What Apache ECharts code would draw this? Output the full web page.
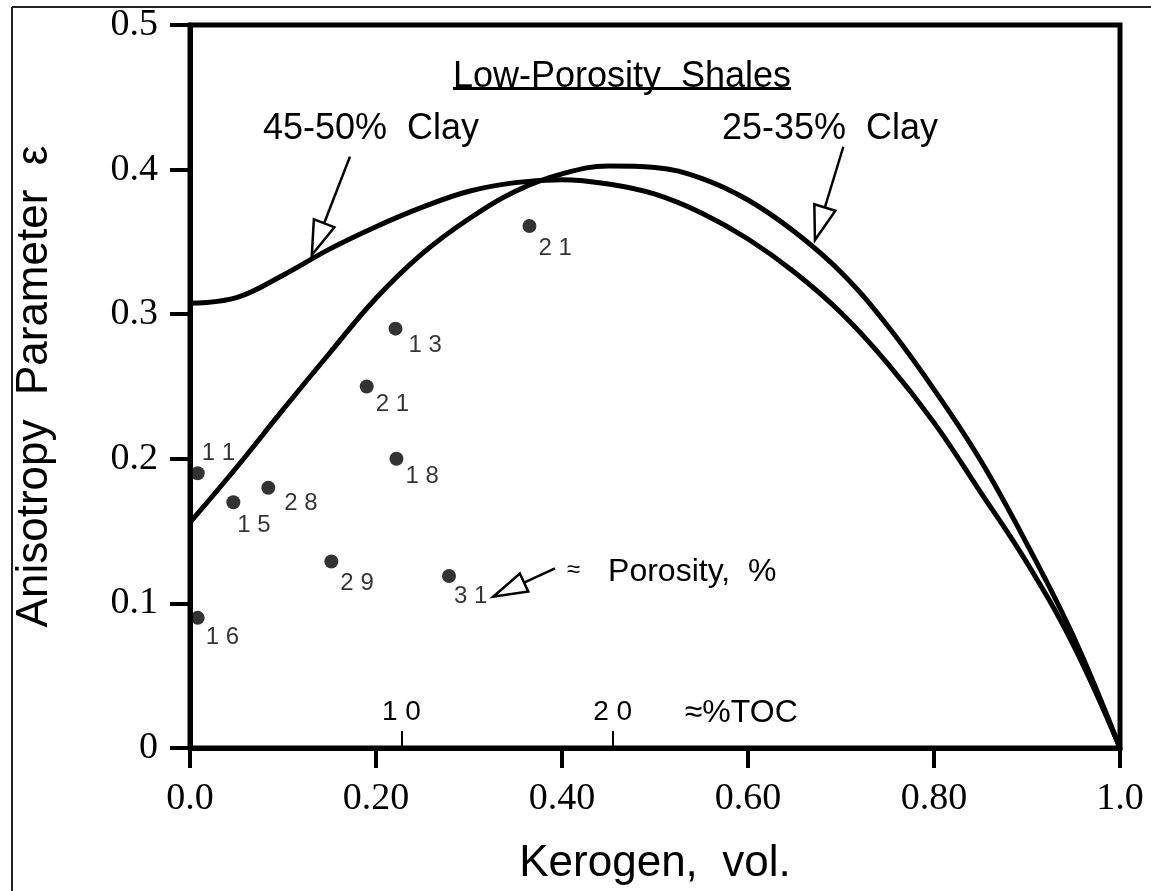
<!DOCTYPE html>
<html><head><meta charset="utf-8">
<script src="https://cdn.jsdelivr.net/npm/echarts@6/dist/echarts.min.js"></script>
<style>html,body{margin:0;padding:0;background:#fff}#c{width:1151px;height:891px}</style>
</head><body><div id="c"></div>
<script>
// ---- data ----
const kerogen    = [0.221, 0.190, 0.222, 0.0083, 0.0466, 0.0842, 0.152, 0.2785, 0.0083, 0.365];
const anisotropy = [0.290, 0.250, 0.200, 0.190, 0.170, 0.180, 0.129, 0.119, 0.090, 0.361];
const porosity   = [13, 21, 18, 11, 15, 28, 29, 31, 16, 21];

const curveK      = [0, 0.05, 0.10, 0.15, 0.20, 0.25, 0.30, 0.35, 0.40, 0.45, 0.50, 0.55, 0.60, 0.65, 0.70, 0.75, 0.80, 0.85, 0.90, 0.95, 1.0];
const clay2535Eps = [0.156, 0.194, 0.234, 0.273, 0.311, 0.342, 0.366, 0.385, 0.397, 0.4025, 0.4015, 0.394, 0.379, 0.357, 0.329, 0.292, 0.248, 0.199, 0.141, 0.077, 0.0];
const clay4550Eps = [0.3075, 0.3115, 0.327, 0.345, 0.3605, 0.374, 0.385, 0.391, 0.393, 0.390, 0.383, 0.370, 0.352, 0.329, 0.301, 0.266, 0.225, 0.177, 0.128, 0.071, 0.0];

const xTickLabels = ['0.0', '0.20', '0.40', '0.60', '0.80', '1.0'];
const yTickLabels = ['0', '0.1', '0.2', '0.3', '0.4', '0.5'];
const tocTicks  = [10, 20];
const tocLabels = ['1 0', '2 0'];

// ---- styling / placement (not data) ----
const labelOffsets = [[13,17],[9,18],[9,18],[4,-20],[4,23],[16,16],[9,22],[5,20],[8,20],[9,22]];
const SANS = 'Liberation Sans, Arial, Helvetica, sans-serif';
const SERIF = 'Liberation Serif, Times New Roman, serif';

const chart = echarts.init(document.getElementById('c'), null, {renderer: 'canvas'});

const pts = kerogen.map((k, i) => ({
  value: [k, anisotropy[i]],
  label: {offset: labelOffsets[i]}
}));

chart.setOption({
  animation: false,
  backgroundColor: '#fff',
  grid: {left: 190, right: 31, top: 25, bottom: 143, show: true, borderColor: '#000', borderWidth: 5},
  xAxis: [{
    type: 'value', min: 0, max: 1, interval: 0.2,
    name: 'Kerogen,  vol.', nameLocation: 'middle', nameGap: 94,
    nameTextStyle: {fontFamily: SANS, fontSize: 44, color: '#000'},
    axisLine: {show: true, onZero: false, lineStyle: {color: '#000', width: 5}},
    axisTick: {show: true, inside: false, length: 20, lineStyle: {color: '#000', width: 4}},
    axisLabel: {margin: 32, fontFamily: SERIF, fontSize: 38, color: '#000',
      formatter: v => xTickLabels[Math.round(v / 0.2)]},
    splitLine: {show: false}
  }, {
    type: 'value', min: 0, max: 44, position: 'bottom', gridIndex: 0,
    axisLine: {show: false},
    axisTick: {show: true, inside: true, length: 17, customValues: tocTicks, lineStyle: {color: '#000', width: 2}},
    axisLabel: {show: true, inside: true, margin: 22, customValues: tocTicks, fontFamily: SANS, fontSize: 28, color: '#000',
      formatter: v => tocLabels[tocTicks.indexOf(v)]},
    splitLine: {show: false}
  }],
  yAxis: {
    type: 'value', min: 0, max: 0.5, interval: 0.1,
    name: 'Anisotropy  Parameter  ε', nameLocation: 'middle', nameGap: 133, nameRotate: 90,
    nameTextStyle: {fontFamily: SANS, fontSize: 44, color: '#000'},
    axisLine: {show: true, onZero: false, lineStyle: {color: '#000', width: 5}},
    axisTick: {show: true, inside: false, length: 20, lineStyle: {color: '#000', width: 4}},
    axisLabel: {margin: 32, fontFamily: SERIF, fontSize: 38, color: '#000',
      formatter: v => yTickLabels[Math.round(v / 0.1)]},
    splitLine: {show: false}
  },
  series: [{
    name: '25-35% Clay', type: 'line', xAxisIndex: 0, yAxisIndex: 0,
    data: curveK.map((k, i) => [k, clay2535Eps[i]]),
    smooth: 0.4, showSymbol: false, symbol: 'none',
    lineStyle: {color: '#000', width: 5}, z: 3
  }, {
    name: '45-50% Clay', type: 'line', xAxisIndex: 0, yAxisIndex: 0,
    data: curveK.map((k, i) => [k, clay4550Eps[i]]),
    smooth: 0.4, showSymbol: false, symbol: 'none',
    lineStyle: {color: '#000', width: 5}, z: 3
  }, {
    name: 'Porosity', type: 'scatter', xAxisIndex: 0, yAxisIndex: 0,
    data: pts, symbol: 'circle', symbolSize: 14,
    itemStyle: {color: '#000'},
    label: {show: true, position: 'inside', align: 'left', verticalAlign: 'middle',
      fontFamily: SANS, fontSize: 24, color: '#000',
      formatter: p => String(porosity[p.dataIndex]).split('').join(' ')},
    z: 4
  }]
});

// ---- annotations placed in data coordinates ----
const px = (k, e) => chart.convertToPixel({xAxisIndex: 0, yAxisIndex: 0}, [k, e]);
const ctx = document.createElement('canvas').getContext('2d');
function textWidth(t, size) { ctx.font = size + 'px ' + SANS; return ctx.measureText(t).width; }

function arrow(from, to, L, W) {
  const p0 = px(from[0], from[1]), p1 = px(to[0], to[1]);
  const dx = p1[0] - p0[0], dy = p1[1] - p0[1], len = Math.hypot(dx, dy);
  const ux = dx / len, uy = dy / len, nx = -uy, ny = ux;
  const bx = p1[0] - L * ux, by = p1[1] - L * uy;
  return [
    {type: 'line', shape: {x1: p0[0], y1: p0[1], x2: bx, y2: by}, style: {stroke: '#000', lineWidth: 2.5}, z: 10},
    {type: 'polygon', shape: {points: [[p1[0], p1[1]], [bx + W * nx, by + W * ny], [bx - W * nx, by - W * ny]]},
      style: {fill: '#fff', stroke: '#000', lineWidth: 2.5, lineJoin: 'miter'}, z: 10}
  ];
}
function txt(t, pos, size, align) {
  const p = px(pos[0], pos[1]);
  return {type: 'text', x: p[0], y: p[1], z: 10,
    style: {text: t, fontFamily: SANS, fontSize: size, fill: '#000', align: align || 'left', verticalAlign: 'middle'}};
}

const titleText = 'Low-Porosity  Shales';
const tp = px(0.4645, 0.464);
const tw = textWidth(titleText, 36);
const ul = px(0, 0.456);

const g = [
  // outer frame (left and top edges visible)
  {type: 'line', shape: {x1: 12, y1: 7, x2: 12, y2: 891}, style: {stroke: '#222', lineWidth: 2}},
  {type: 'line', shape: {x1: 12, y1: 7, x2: 1151, y2: 7}, style: {stroke: '#222', lineWidth: 2}},
  txt(titleText, [0.4645, 0.464], 36, 'center'),
  {type: 'line', shape: {x1: tp[0] - tw / 2, y1: ul[1], x2: tp[0] + tw / 2, y2: ul[1]}, style: {stroke: '#000', lineWidth: 3}, z: 10},
  txt('45-50%  Clay', [0.0785, 0.428], 36),
  txt('25-35%  Clay', [0.572, 0.428], 36),
  txt('≈', [0.405, 0.123], 24),
  txt('Porosity,  %', [0.4495, 0.1217], 32),
  txt('≈%TOC', [0.532, 0.0242], 32)
].concat(
  arrow([0.172, 0.409], [0.131, 0.341], 34, 11),
  arrow([0.7025, 0.4158], [0.672, 0.3513], 34, 11),
  arrow([0.3925, 0.1243], [0.326, 0.1046], 34, 10)
);
chart.setOption({graphic: g});
</script>
</body></html>
